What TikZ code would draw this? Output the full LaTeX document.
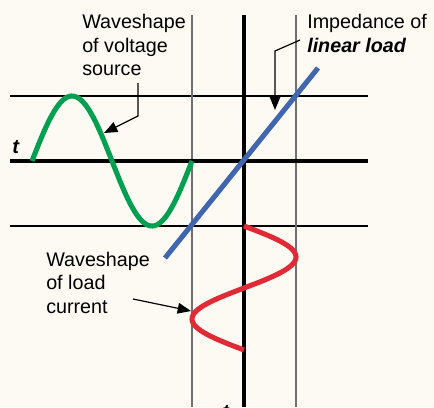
\documentclass[tikz,border=0pt]{standalone}
\usepackage{fontspec}
\setmainfont{Liberation Sans}
\usetikzlibrary{arrows.meta}
\definecolor{cream}{HTML}{FDFAF4}
\definecolor{wavegreen}{HTML}{00A050}
\definecolor{wavered}{HTML}{E02A35}
\definecolor{loadblue}{HTML}{3F66AE}
\definecolor{gridgray}{HTML}{707070}

\begin{document}
\begin{tikzpicture}[
  x=0.75pt, y=-0.75pt,
  >=Latex,
  % Styles
  note/.style={anchor=base west, align=left, inner sep=0pt,
    font=\fontsize{14.8}{17.6}\selectfont},
  axislabel/.style={anchor=base west, inner sep=0pt,
    font=\fontsize{15}{18}\selectfont\bfseries\itshape},
  thinline/.style={draw=black, line width=0.9pt},
  axis/.style={draw=black, line width=2.3pt},
  guide/.style={draw=gridgray, line width=1pt},
  wave/.style={line width=3.8pt},
  callout/.style={-{Triangle[length=10pt,width=8pt]}, line width=0.9pt},
]

% === Frame ===
\fill[cream] (0,0) rectangle (434,407);
\useasboundingbox (0,0) rectangle (434,407);

% === Grid ===
\draw[thinline] (10,96) -- (368,96);
\draw[thinline] (10,226) -- (368,226);
\draw[guide] (192,15) -- (192,407);
\draw[guide] (296,15) -- (296,407);
\draw[axis] (10,161) -- (368,161);
\draw[axis] (244,15) -- (244,407);

% === Waves ===
\draw[wave, wavegreen, domain=0:160, samples=90]
  plot ({32+\x}, {161-65*sin(\x*2.25)});
\draw[wave, loadblue] (165,258) -- (318,68);
\draw[wave, wavered, domain=0:124, samples=90]
  plot ({244+52*sin(\x*2.9032)}, {226+\x});

% === Axis labels ===
\node[axislabel] (tleft) at (12,153) {t};
\node[axislabel] (tbottom) at (222,418) {t};

% === Notes (anchored at last baseline) ===
\node[note] (vsource) at (82,75.5) {Waveshape\\of voltage\\source};
\node[note] (zload) at (307,52) {Impedance of\\\textbf{\textit{linear load}}};
\node[note] (iload) at (46,313) {Waveshape\\of load\\current};

% === Callouts ===
\coordinate (vstart) at (138,83);
\coordinate (vbend) at (138,116);
\coordinate (vtip) at (104,133);
\draw[callout] (vstart) -- (vbend) -- (vtip);
\coordinate (zstart) at (300,40);
\coordinate (zbend) at (275,51);
\coordinate (ztip) at (275,110);
\draw[callout] (zstart) -- (zbend) -- (ztip);
\coordinate (istart) at (133,299);
\coordinate (itip) at (191,311);
\draw[callout] (istart) -- (itip);

\end{tikzpicture}
\end{document}
